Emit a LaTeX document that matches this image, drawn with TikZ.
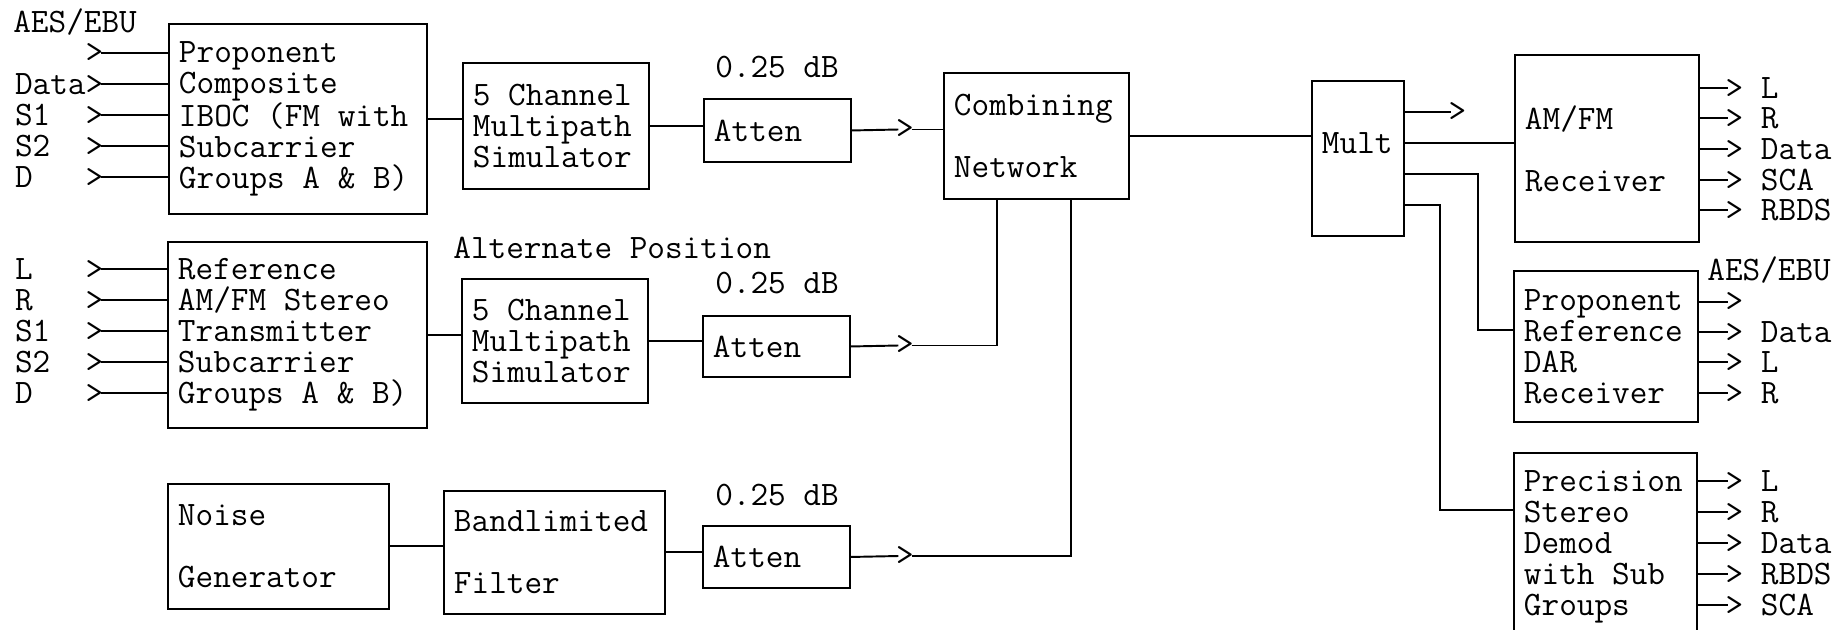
\documentclass[tikz,border=0pt]{standalone}
\usepackage{fontspec}

\begin{document}
\begin{tikzpicture}[
  x=0.02cm, y=-0.02cm,
  font=\ttfamily\fontsize{19.5}{17.6}\selectfont,
  wire/.style={line width=1.1pt},
  box/.style={draw, line width=1.1pt, anchor=north west, align=flush left,
              inner xsep=0.2cm, inner ysep=0pt},
  lbl/.style={inner sep=0pt},
  tick/.style={inner xsep=-1.5pt, inner ysep=0pt}
]
\useasboundingbox (0,0) rectangle (1844,629);
\clip (0,0) rectangle (1844,629);

%% Transmitter side
\node[box, text width=4.76cm, minimum height=3.8cm] (prop) at (168,23)
  {Proponent\\Composite\\IBOC (FM with\\Subcarrier\\Groups A \& B)};
\node[box, text width=4.78cm, minimum height=3.72cm] (ref) at (167,241)
  {Reference\\AM/FM Stereo\\Transmitter\\Subcarrier\\Groups A \& B)};
\node[box, text width=4.02cm, minimum height=2.5cm] (noise) at (167,483)
  {Noise\\[17.6pt]Generator};

%% Channel path
\node[box, text width=3.32cm, minimum height=2.52cm] (mp1) at (462,62)
  {5 Channel\\Multipath\\Simulator};
\node[box, text width=3.32cm, minimum height=2.48cm] (mp2) at (461,278)
  {5 Channel\\Multipath\\Simulator};
\node[box, text width=4.02cm, minimum height=2.46cm] (band) at (443,490)
  {Bandlimited\\[17.6pt]Filter};
\node[box, text width=2.54cm, minimum height=1.26cm] (at1) at (703,98) {Atten};
\node[box, text width=2.54cm, minimum height=1.22cm] (at2) at (702,315) {Atten};
\node[box, text width=2.54cm, minimum height=1.24cm] (at3) at (702,525) {Atten};
\node[box, text width=3.3cm, minimum height=2.52cm] (comb) at (943,72)
  {Combining\\[17.6pt]Network};

%% Receiver side
\node[box, text width=1.44cm, minimum height=3.1cm] (mult) at (1311,80) {Mult\\~};
\node[box, text width=3.28cm, minimum height=3.74cm] (amfm) at (1514,54)
  {AM/FM\\[17.6pt]Receiver};
\node[box, text width=3.28cm, minimum height=3.02cm] (dar) at (1513,270)
  {Proponent\\Reference\\DAR\\Receiver};
\node[box, text width=3.26cm, minimum height=3.76cm] (prec) at (1513,452)
  {Precision\\Stereo\\Demod\\with Sub\\Groups};

%% Free labels
\node[lbl, anchor=west] (aesin) at (13,22) {AES/EBU};
\node[lbl] (db1) at (777,67) {0.25 dB};
\node[lbl] (db2) at (777,283) {0.25 dB};
\node[lbl] (db3) at (777,495) {0.25 dB};
\node[lbl, anchor=west] (alt) at (453,248) {Alternate Position};
\node[lbl, anchor=west] (aesout) at (1707,270) {AES/EBU};

%% Inputs
\node[tick, anchor=east] (p1) at (101,53)  {>};
\node[tick, anchor=east] (p2) at (101,84)  {Data>};
\node[tick, anchor=east] (p3) at (101,115) {S1~~>};
\node[tick, anchor=east] (p4) at (101,146) {S2~~>};
\node[tick, anchor=east] (p5) at (101,177) {D~~~>};
\node[tick, anchor=east] (r1) at (101,269) {L~~~>};
\node[tick, anchor=east] (r2) at (101,300) {R~~~>};
\node[tick, anchor=east] (r3) at (101,331) {S1~~>};
\node[tick, anchor=east] (r4) at (101,362) {S2~~>};
\node[tick, anchor=east] (r5) at (101,393) {D~~~>};

%% Typed arrow heads on the lines
\node[tick] (g1) at (905,129.5) {>};
\node[tick] (g2) at (905,345.5) {>};
\node[tick] (g3) at (905,556) {>};
\node[tick, anchor=west] (mo) at (1451,112) {>};

%% Outputs
\node[tick, anchor=west] (a1) at (1728,88)  {>~L};
\node[tick, anchor=west] (a2) at (1728,118) {>~R};
\node[tick, anchor=west] (a3) at (1728,149) {>~Data};
\node[tick, anchor=west] (a4) at (1728,180) {>~SCA};
\node[tick, anchor=west] (a5) at (1728,210) {>~RBDS};
\node[tick, anchor=west] (d1) at (1728,302) {>};
\node[tick, anchor=west] (d2) at (1728,332) {>~Data};
\node[tick, anchor=west] (d3) at (1728,362) {>~L};
\node[tick, anchor=west] (d4) at (1728,393) {>~R};
\node[tick, anchor=west] (s1) at (1728,481) {>~L};
\node[tick, anchor=west] (s2) at (1728,512) {>~R};
\node[tick, anchor=west] (s3) at (1728,543) {>~Data};
\node[tick, anchor=west] (s4) at (1728,574) {>~RBDS};
\node[tick, anchor=west] (s5) at (1728,605) {>~SCA};

%% Input lines
\draw[wire] (p1.east) -- (p1.east -| prop.west);
\draw[wire] (p2.east) -- (p2.east -| prop.west);
\draw[wire] (p3.east) -- (p3.east -| prop.west);
\draw[wire] (p4.east) -- (p4.east -| prop.west);
\draw[wire] (p5.east) -- (p5.east -| prop.west);
\draw[wire] (r1.east) -- (r1.east -| ref.west);
\draw[wire] (r2.east) -- (r2.east -| ref.west);
\draw[wire] (r3.east) -- (r3.east -| ref.west);
\draw[wire] (r4.east) -- (r4.east -| ref.west);
\draw[wire] (r5.east) -- (r5.east -| ref.west);

%% Signal chain
\draw[wire] (prop.east) -- (prop.east -| mp1.west);
\draw[wire] (ref.east) -- (ref.east -| mp2.west);
\draw[wire] (noise.east) -- (noise.east -| band.west);
\draw[wire] (mp1.east) -- (mp1.east -| at1.west);
\draw[wire] (mp2.east) -- (mp2.east -| at2.west);
\draw[wire] (band.east) -- (band.east -| at3.west);
\draw[wire] (at1.east) -- (g1.west);
\draw[wire] (at2.east) -- (g2.west);
\draw[wire] (at3.east) -- (g3.west);

%% Into the combiner
\coordinate (cb1) at (997,0);
\coordinate (cb2) at (1071,0);
\draw[wire] (g1.east) -- (g1.east -| comb.west);
\draw[wire] (g2.east) -| (comb.south -| cb1);
\draw[wire] (g3.east) -| (comb.south -| cb2);
\draw[wire] (comb.east) -- (comb.east -| mult.west);

%% Splitter outputs
\coordinate (m2) at (1403,143);
\coordinate (j1) at (1478,174);
\coordinate (j2) at (1440,205);
\draw[wire] (mult.east |- mo.west) -- (mo.west);
\draw[wire] (m2) -- (m2 -| amfm.west);
\draw[wire] (mult.east |- j1) -- (j1) |- ([yshift=0.33cm]dar.west);
\draw[wire] (mult.east |- j2) -- (j2) |- ([yshift=0.74cm]prec.west);

%% Receiver outputs
\draw[wire] (amfm.east |- a1.west) -- (a1.west);
\draw[wire] (amfm.east |- a2.west) -- (a2.west);
\draw[wire] (amfm.east |- a3.west) -- (a3.west);
\draw[wire] (amfm.east |- a4.west) -- (a4.west);
\draw[wire] (amfm.east |- a5.west) -- (a5.west);
\draw[wire] (dar.east |- d1.west) -- (d1.west);
\draw[wire] (dar.east |- d2.west) -- (d2.west);
\draw[wire] (dar.east |- d3.west) -- (d3.west);
\draw[wire] (dar.east |- d4.west) -- (d4.west);
\draw[wire] (prec.east |- s1.west) -- (s1.west);
\draw[wire] (prec.east |- s2.west) -- (s2.west);
\draw[wire] (prec.east |- s3.west) -- (s3.west);
\draw[wire] (prec.east |- s4.west) -- (s4.west);
\draw[wire] (prec.east |- s5.west) -- (s5.west);

\end{tikzpicture}
\end{document}
